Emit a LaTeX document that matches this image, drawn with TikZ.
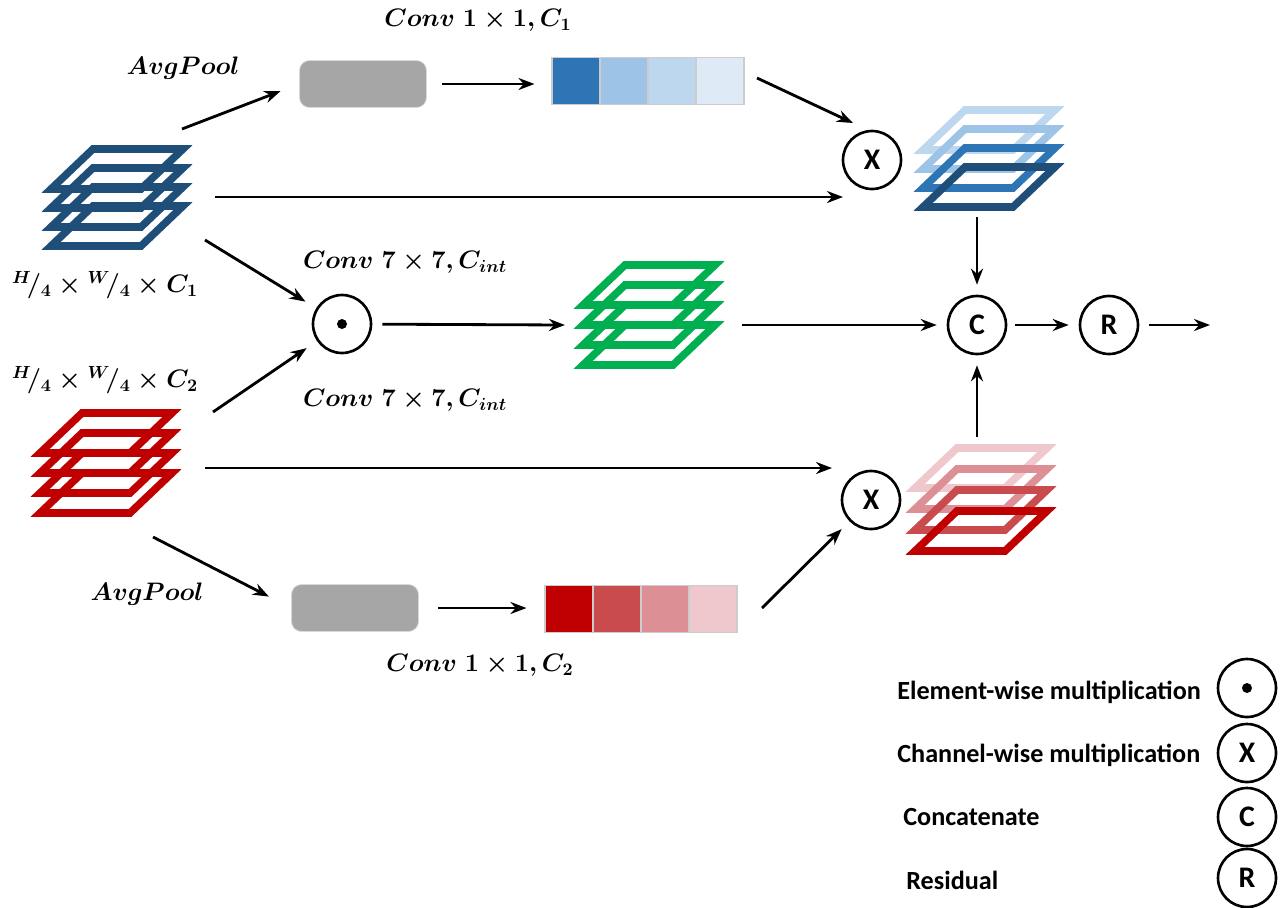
\documentclass[tikz,border=0pt]{standalone}
\usepackage{fontspec}
\newfontfamily\keyfont{Carlito}
\usetikzlibrary{arrows.meta}

\definecolor{mapblue}{HTML}{1F4E79}
\definecolor{mapgreen}{HTML}{00B050}
\definecolor{mapred}{HTML}{C00000}
\definecolor{poolgray}{HTML}{A6A6A6}
\definecolor{blueA}{HTML}{2E75B6}
\definecolor{blueB}{HTML}{9DC3E6}
\definecolor{blueC}{HTML}{BDD7EE}
\definecolor{blueD}{HTML}{DEEBF7}
\definecolor{redA}{HTML}{C00000}
\definecolor{redB}{HTML}{CA4B4D}
\definecolor{redC}{HTML}{DC9095}
\definecolor{redD}{HTML}{EEC8CC}

% one feature sheet: centre x, centre y, colour
\newcommand{\sheet}[3]{%
  \draw[line width=4.3pt, #3] (#1-66,#2+20) -- (#1+24,#2+20) -- (#1+66,#2-20) -- (#1-24,#2-20) -- cycle;}
% four sheets: x, y of top sheet, gap, colours from top to bottom
\newcommand{\fmap}[7]{%
  \sheet{#1}{#2}{#4}
  \sheet{#1}{#2+#3}{#5}
  \sheet{#1}{#2+2*#3}{#6}
  \sheet{#1}{#2+3*#3}{#7}}

\begin{document}
\begin{tikzpicture}[
x=0.02cm, y=-0.02cm,
arr/.style={-{Stealth[length=3.2mm,width=2.4mm]}, line width=1.6pt},
op/.style={circle, draw, line width=1.5pt, minimum size=1.16cm, inner sep=0pt, font=\keyfont\bfseries\fontsize{17}{17}\selectfont},
pool/.style={rectangle, rounded corners=2mm, fill=poolgray, draw=black!15, minimum width=2.54cm, minimum height=0.94cm},
cell/.style={rectangle, draw=black!20, line width=0.6pt, minimum width=0.96cm, minimum height=0.94cm, inner sep=0pt},
lbl/.style={font=\boldmath\fontsize{14}{16}\selectfont},
key/.style={font=\keyfont\bfseries\fontsize{14.9}{17}\selectfont, anchor=west, inner sep=0pt}
]
\useasboundingbox (0,0) rectangle (1281,907);

% feature maps
\fmap{117}{169}{19}{mapblue}{mapblue}{mapblue}{mapblue}
\fmap{106}{433}{20}{mapred}{mapred}{mapred}{mapred}
\fmap{649}{285}{20}{mapgreen}{mapgreen}{mapgreen}{mapgreen}
\fmap{989}{130}{19}{blueC}{blueB}{blueA}{mapblue}
\fmap{981}{468}{21}{redD}{redC}{redB}{redA}

% pooling and channel weights
\node[pool] (pool1) at (363,84) {};
\node[pool] (pool2) at (355,608) {};
\node[cell, fill=blueA] (c11) at (576,81) {};
\node[cell, fill=blueB] (c12) at (624,81) {};
\node[cell, fill=blueC] (c13) at (672,81) {};
\node[cell, fill=blueD] (c14) at (720,81) {};
\node[cell, fill=redA] (c21) at (569,609) {};
\node[cell, fill=redB] (c22) at (617,609) {};
\node[cell, fill=redC] (c23) at (665,609) {};
\node[cell, fill=redD] (c24) at (713,609) {};

% operators
\node[op] (dot) at (342,324) {};
\fill (dot) circle (0.1cm);
\node[op] (xt) at (872,160) {X};
\node[op] (xb) at (871,500) {X};
\node[op] (cat) at (977,325) {C};
\node[op] (res) at (1109,325) {R};

% free ends
\coordinate (bo1) at (182,129);
\coordinate (bo2) at (215,197);
\coordinate (bo3) at (205,240);
\coordinate (ro1) at (213,412);
\coordinate (ro2) at (205,468);
\coordinate (ro3) at (153,537);
\coordinate (xtin) at (853,123);
\coordinate (xtin2) at (843,197);
\coordinate (xbin) at (832,468);
\coordinate (gin) at (565,325);
\coordinate (gout) at (742,325);
\coordinate (bout) at (977,217);
\coordinate (rout) at (977,437);
\coordinate (c1out) at (757,78);
\coordinate (c2out) at (762,608);
\coordinate (fin) at (1210,325);

% connectors
\draw[arr, shorten >=0.4cm] (bo1) -- (pool1.west);
\draw[arr, shorten <=0.3cm, shorten >=0.34cm] (pool1.east) -- (pool1.east -| c11.west);
\draw[arr] (c1out) -- (xtin);
\draw[arr] (bo2) -- (xtin2);
\draw[arr, shorten >=0.2cm] (bout) -- (cat);
\draw[arr, shorten >=0.25cm] (bo3) -- (dot);
\draw[arr, shorten >=0.25cm] (ro1) -- (dot);
\draw[arr, shorten <=0.2cm] (dot) -- (gin);
\draw[arr, shorten >=0.2cm] (gout) -- (cat);
\draw[arr, shorten <=0.15cm, shorten >=0.2cm] (cat) -- (res);
\draw[arr, shorten <=0.2cm] (res) -- (fin);
\draw[arr] (ro2) -- (xbin);
\draw[arr, shorten >=0.2cm] (rout) -- (cat);
\draw[arr, shorten >=0.5cm] (ro3) -- (pool2.west);
\draw[arr, shorten <=0.38cm, shorten >=0.36cm] (pool2.east) -- (pool2.east -| c21.west);
\draw[arr, shorten >=0.22cm] (c2out) -- (xb);

% labels
\node[lbl] (avg1) at (183,68) {$AvgPool$};
\node[lbl] (avg2) at (147,594) {$AvgPool$};
\node[lbl] (conv1) at (478,20) {$Conv\ 1\times 1, C_1$};
\node[lbl] (conv2) at (480,665) {$Conv\ 1\times 1, C_2$};
\node[lbl] (conv7a) at (405,262) {$Conv\ 7\times 7, C_{int}$};
\node[lbl] (conv7b) at (405,400) {$Conv\ 7\times 7, C_{int}$};
\node[lbl] (size1) at (105,285) {${}^{H}\!/_{4}\times{}^{W}\!/_{4}\times C_1$};
\node[lbl] (size2) at (105,380) {${}^{H}\!/_{4}\times{}^{W}\!/_{4}\times C_2$};

% legend
\node[op] (k1) at (1247,688) {};
\fill (k1) circle (0.1cm);
\node[op] (k2) at (1247,753) {X};
\node[op] (k3) at (1247,817) {C};
\node[op] (k4) at (1247,878) {R};
\node[key] (t1) at (897,692) {Element-wise multiplication};
\node[key] (t2) at (897,755) {Channel-wise multiplication};
\node[key] (t3) at (903,817) {Concatenate};
\node[key] (t4) at (906,880) {Residual};
\end{tikzpicture}
\end{document}
